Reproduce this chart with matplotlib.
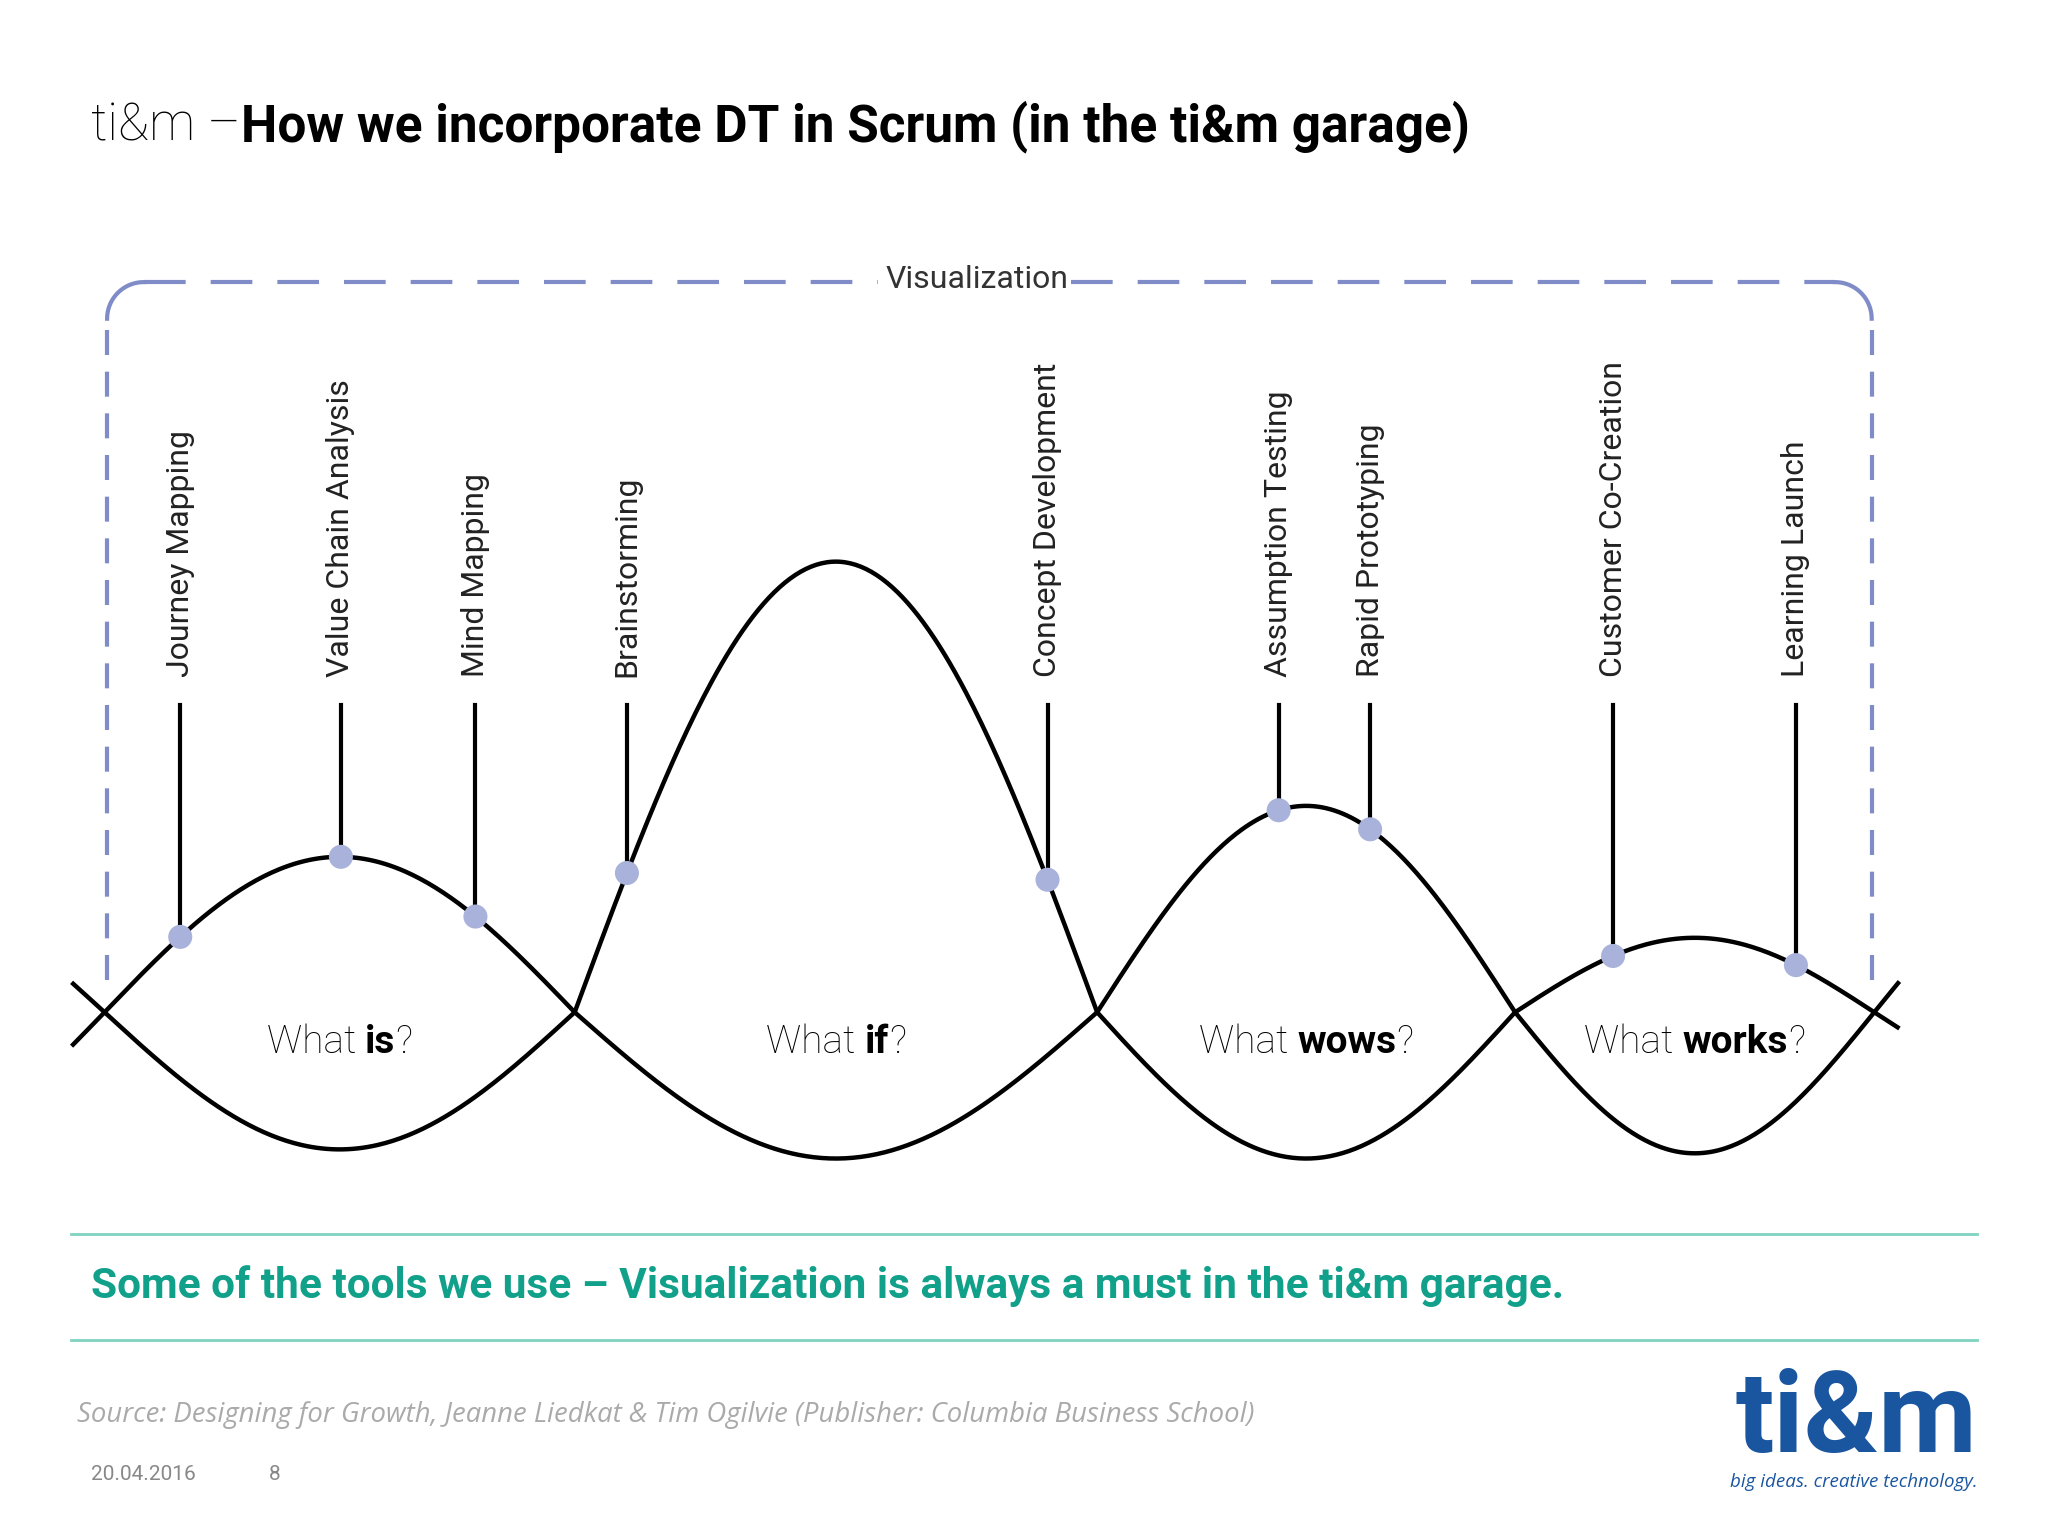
import numpy as np
import matplotlib
matplotlib.use("Agg")
import matplotlib.pyplot as plt

# ---- data ----
crossings = [80, 440, 840, 1160, 1435]
upper_peaks = [656, 430, 617, 718]
lower_bottoms = [880, 887, 887, 883]
baseline = 775
phase_labels = [("What ", "is", "?"), ("What ", "if", "?"), ("What ", "wows", "?"), ("What ", "works", "?")]
tools = ["Journey Mapping", "Value Chain Analysis", "Mind Mapping", "Brainstorming",
         "Concept Development", "Assumption Testing", "Rapid Prototyping",
         "Customer Co-Creation", "Learning Launch"]
tool_x = [138, 261, 364, 480, 802, 979, 1049, 1235, 1375]

W, H = 1568, 1176
fig = plt.figure(figsize=(20.48, 15.36), dpi=100)
ax = fig.add_axes([0, 0, 1, 1])
ax.set_xlim(0, W); ax.set_ylim(H, 0); ax.axis("off")
F = "Roboto"
fig.canvas.draw()
r = fig.canvas.get_renderer()

def text_w(s, **kw):
    tt = ax.text(0, 0, s, **kw)
    w = tt.get_window_extent(r).width * W / 2048
    tt.remove()
    return w

def hump(i, amp_y, t0=0.0, t1=1.0):
    x0, x1 = crossings[i], crossings[i + 1]
    t = np.linspace(t0, t1, 200)
    x = x0 + t * (x1 - x0)
    y = baseline - (baseline - amp_y) * np.sin(np.pi * t)
    return x, y

def upper_y(xv):
    for i in range(4):
        if crossings[i] <= xv <= crossings[i + 1]:
            t = (xv - crossings[i]) / (crossings[i + 1] - crossings[i])
            return baseline - (baseline - upper_peaks[i]) * np.sin(np.pi * t)

for i in range(4):
    t0 = -0.07 if i == 0 else 0.0
    t1 = 1.07 if i == 3 else 1.0
    for amp in (upper_peaks[i], lower_bottoms[i]):
        x, y = hump(i, amp, t0, t1)
        ax.plot(x, y, color="black", lw=3.2, solid_capstyle="butt")
    xm = (crossings[i] + crossings[i + 1]) / 2
    a, b, c = phase_labels[i]
    parts = [(a.replace(" ", "\u00a0"), "light"), (b, "bold"), (c, "light")]
    widths = [text_w(s, fontsize=28, family=F, fontweight=w) for s, w in parts]
    x = xm - sum(widths) / 2
    for (s, w), wd in zip(parts, widths):
        ax.text(x, 798, s, ha="left", va="center", fontsize=28, family=F, fontweight=w)
        x += wd

for name, xv in zip(tools, tool_x):
    yv = upper_y(xv)
    ax.plot([xv, xv], [540, yv], color="black", lw=3)
    ax.scatter([xv], [yv], s=300, color="#a9b2da", zorder=5, edgecolor="none")
    ax.text(xv, 518, name, rotation=90, ha="center", va="bottom", fontsize=23, family=F,
            fontweight="normal", color="#222222")

# dashed frame
dc = "#7f8cc8"
ax.plot([82, 82], [750, 245], color=dc, lw=3, ls=(0, (6, 4)))
ax.plot([1433, 1433], [750, 245], color=dc, lw=3, ls=(0, (6, 4)))
th = np.linspace(0, np.pi / 2, 30)
ax.plot(82 + 28 * (1 - np.cos(th)), 244 - 28 * np.sin(th), color=dc, lw=3)
ax.plot(1433 - 28 * (1 - np.cos(th)), 244 - 28 * np.sin(th), color=dc, lw=3)
ax.plot([110, 672], [216, 216], color=dc, lw=3, ls=(0, (10, 6)))
ax.plot([820, 1405], [216, 216], color=dc, lw=3, ls=(0, (10, 6)))
ax.text(748, 214, "Visualization", ha="center", va="center", fontsize=23, family=F,
        fontweight="normal", color="#333333")

# title
s1 = "ti&m \u2013"
w1 = text_w(s1, fontsize=37, family=F, fontweight="light")
ax.text(70, 97, s1, ha="left", va="center", fontsize=37, family=F, fontweight="light")
ax.text(70 + w1, 97, "How we incorporate DT in Scrum (in the ti&m garage)", ha="left", va="center",
        fontsize=37, family=F, fontweight="bold")

# green band
gc = "#7fd3c0"
ax.plot([54, 1514], [945, 945], color=gc, lw=2)
ax.plot([54, 1514], [1026, 1026], color=gc, lw=2)
ax.text(70, 985, "Some of the tools we use \u2013 Visualization is always a must in the ti&m garage.",
        ha="left", va="center", fontsize=30.5, family=F, fontweight="bold", color="#11a08a")

ax.text(59, 1083, "Source: Designing for Growth, Jeanne Liedkat & Tim Ogilvie (Publisher: Columbia Business School)",
        ha="left", va="center", fontsize=19.8, family="Open Sans", style="italic", color="#aaaaaa")
ax.text(70, 1129, "20.04.2016", ha="left", va="center", fontsize=15, family=F, color="#888888")
ax.text(210, 1129, "8", ha="center", va="center", fontsize=15, family=F, color="#888888")

ax.text(1514, 1088, "ti&m", ha="right", va="center", fontsize=82, family=F, fontweight="bold", color="#1a56a0")
ax.text(1514, 1135, "big ideas. creative technology.", ha="right", va="center", fontsize=13.5,
        family="Open Sans", style="italic", color="#1a56a0")

fig.savefig("out.png", dpi=100)
